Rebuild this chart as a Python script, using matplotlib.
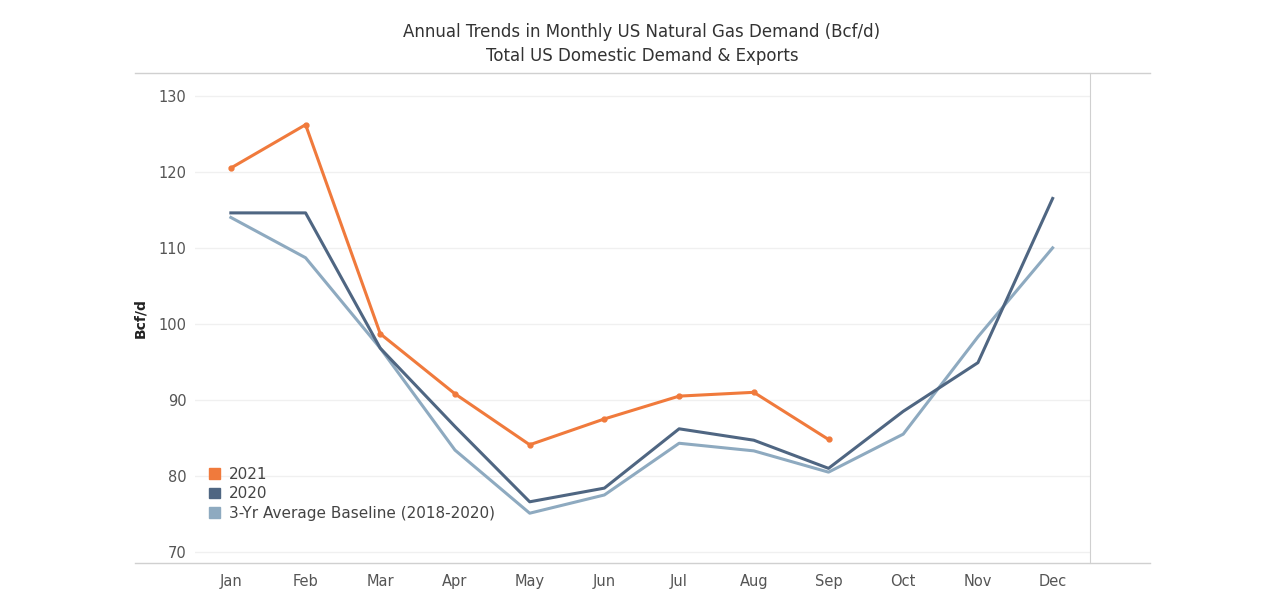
import matplotlib.pyplot as plt
from matplotlib.patches import Patch

months = ["Jan", "Feb", "Mar", "Apr", "May", "Jun", "Jul", "Aug", "Sep", "Oct", "Nov", "Dec"]
y2021 = [120.5, 126.2, 98.7, 90.8, 84.1, 87.5, 90.5, 91.0, 84.8]
y2020 = [114.6, 114.6, 96.8, 86.5, 76.6, 78.4, 86.2, 84.7, 81.0, 88.5, 94.9, 116.5]
baseline = [114.0, 108.7, 96.8, 83.4, 75.1, 77.5, 84.3, 83.3, 80.5, 85.5, 98.3, 110.0]

c21 = "#f07a3c"
c20 = "#4f6682"
cb = "#8eaac0"

fig = plt.figure(figsize=(12.74, 5.99), dpi=100)
ax = fig.add_axes([195/1274, 1-563/599, (1090-195)/1274, (563-73)/599])

ax.plot(range(len(baseline)), baseline, color=cb, lw=2.2)
ax.plot(range(len(y2020)), y2020, color=c20, lw=2.2)
ax.plot(range(len(y2021)), y2021, color=c21, lw=2.2, marker="o", ms=3.5)

ax.set_xlim(-0.48, 11.5)
ax.set_ylim(68.55, 133.0)
ax.set_xticks(range(12))
ax.set_xticklabels(months)
ax.set_yticks(range(70, 131, 10))
ax.tick_params(length=0, labelsize=10.5, colors="#555555")
ax.tick_params(axis="x", pad=8)
ax.tick_params(axis="y", pad=6)
ax.grid(axis="y", color="#f0f0f0", lw=1)
ax.set_axisbelow(True)
for s in ["left", "top", "bottom"]:
    ax.spines[s].set_visible(False)
ax.spines["right"].set_color("#d0d0d0")
ax.set_ylabel("Bcf/d", fontsize=10, fontweight="bold", color="#222222", labelpad=8)

# header / footer rules spanning wider than axes
fig.add_artist(plt.Line2D([135/1274, 1150/1274], [1-73/599]*2, color="#d0d0d0", lw=1))
fig.add_artist(plt.Line2D([135/1274, 1150/1274], [1-563/599]*2, color="#d0d0d0", lw=1))

handles = [Patch(color=c21), Patch(color=c20), Patch(color=cb)]
labels = ["2021", "2020", "3-Yr Average Baseline (2018-2020)"]
fig.legend(handles, labels, loc="lower left", bbox_to_anchor=(203/1274, 1-527/599), frameon=False,
           fontsize=11, handlelength=0.7, handleheight=0.7, handletextpad=0.6,
           labelspacing=0.3, labelcolor="#444444", borderaxespad=0)

fig.text(642/1274, 1-32/599, "Annual Trends in Monthly US Natural Gas Demand (Bcf/d)",
         ha="center", va="center", fontsize=12, color="#333333")
fig.text(642/1274, 1-56/599, "Total US Domestic Demand & Exports",
         ha="center", va="center", fontsize=12, color="#333333")

fig.savefig("out.png", dpi=100)
